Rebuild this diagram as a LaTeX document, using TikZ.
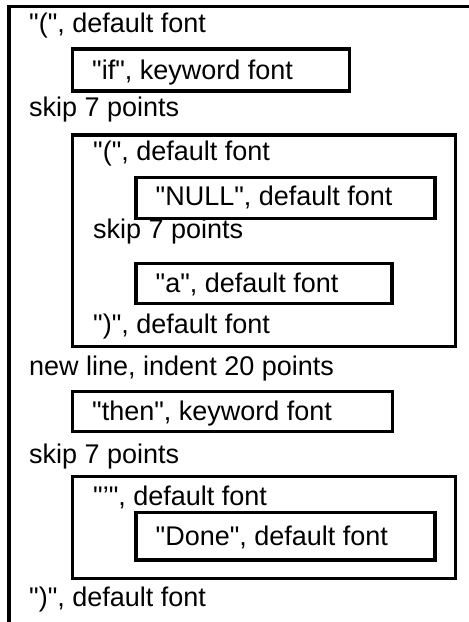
\documentclass[tikz,border=0pt]{standalone}
\usepackage{fontspec}
\setmainfont{Liberation Sans}[Ligatures=TeXOff]
\usetikzlibrary{positioning}
\tikzset{frame/.style={draw, line width=3.2pt, anchor=north west, inner sep=0pt, outer sep=0pt}}
\tikzset{txt/.style={anchor=base west, inner sep=0pt, font=\fontsize{27}{31}\selectfont}}

\begin{document}
\begin{tikzpicture}[x=1pt, y=-1pt]
    \clip (0, 0) rectangle (469, 622);

    \node[frame, minimum width=600pt, minimum height=700pt] (outer) at (9, 6.5) {};

    \node[txt] (t1) at (29, 32) {"(", default font};
    \node[frame, minimum width=277pt, minimum height=42pt] (ifbox) at (72.5, 49) {};
    \node[txt] (tif) at (92, 79) {"if", keyword font};
    \node[txt] (t2) at (29, 116) {skip 7 points};

    \node[frame, minimum width=383.2pt, minimum height=211.5pt] (grpA) at (72.5, 135) {};
    \node[txt] (ta1) at (93, 160) {"(", default font};
    \node[frame, minimum width=299pt, minimum height=41pt] (nullbox) at (136, 177.5) {};
    \node[txt] (tnull) at (155.5, 205) {"NULL", default font};
    \node[txt] (ta2) at (93, 238.3) {skip 7 points};
    \node[frame, minimum width=256pt, minimum height=40pt] (abox) at (136, 263.5) {};
    \node[txt] (ta) at (155.5, 292) {"a", default font};
    \node[txt] (ta3) at (93, 333.3) {")", default font};

    \node[txt] (t3) at (29, 375) {new line, indent 20 points};
    \node[frame, minimum width=320pt, minimum height=40pt] (thenbox) at (72.5, 391.7) {};
    \node[txt] (tthen) at (92, 420.5) {"then", keyword font};
    \node[txt] (t4) at (29, 463.3) {skip 7 points};

    \node[frame, minimum width=383.2pt, minimum height=101.6pt] (grpB) at (72.5, 476.7) {};
    \node[txt] (tb1) at (93, 505) {"’", default font};
    \node[frame, minimum width=299pt, minimum height=47.7pt] (donebox) at (136, 512.3) {};
    \node[txt] (tdone) at (155.5, 545) {"Done", default font};

    \node[txt] (t5) at (29, 606) {")", default font};
\end{tikzpicture}
\end{document}
